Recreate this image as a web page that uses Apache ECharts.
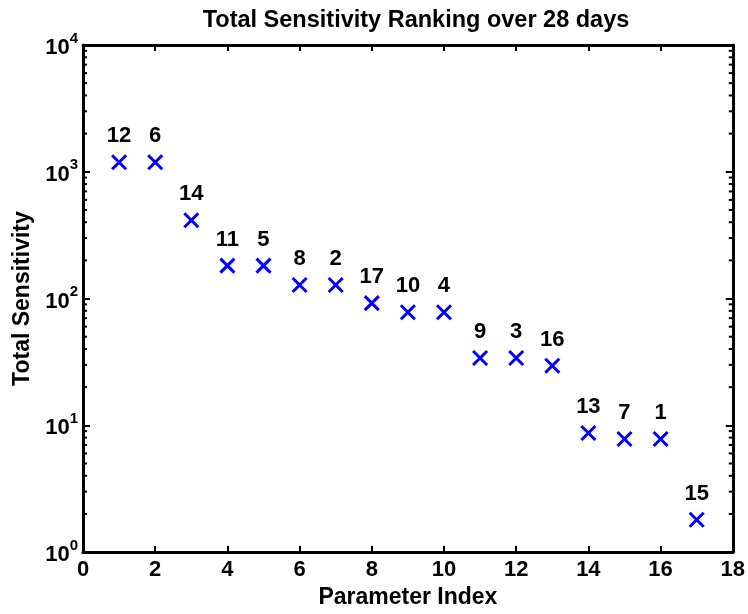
<!DOCTYPE html>
<html>
<head>
<meta charset="utf-8">
<script src="https://cdn.jsdelivr.net/npm/echarts@6/dist/echarts.min.js"></script>
<style>
  html, body { margin: 0; padding: 0; background: #fff; }
  #chart { width: 748px; height: 614px; }
</style>
</head>
<body>
<div id="chart"></div>
<script>
// Ranked parameters: position on the x axis, parameter id shown above each mark, total sensitivity
const rankPositions = [1, 2, 3, 4, 5, 6, 7, 8, 9, 10, 11, 12, 13, 14, 15, 16, 17];
const parameterIds = ['12', '6', '14', '11', '5', '8', '2', '17', '10', '4', '9', '3', '16', '13', '7', '1', '15'];
const sensitivity = [1190, 1190, 415, 182, 182, 128, 128, 92, 78, 78, 34, 34, 29.5, 8.7, 7.8, 7.8, 1.8];

const xTicks = [0, 2, 4, 6, 8, 10, 12, 14, 16, 18];
const yDecades = [1, 10, 100, 1000, 10000];

const FONT = 'Liberation Sans';

// minor log ticks: 2..9 within each decade
const minorTicks = [];
for (let d = 0; d < yDecades.length - 1; d++) {
  for (let m = 2; m <= 9; m++) minorTicks.push([0, m * yDecades[d]]);
}

const points = rankPositions.map((x, i) => ({ value: [x, sensitivity[i]], name: parameterIds[i] }));

const chart = echarts.init(document.getElementById('chart'), null, { renderer: 'canvas' });

const axisLineStyle = { color: '#000', width: 3 };
const tickStyle = { color: '#000', width: 2 };

chart.setOption({
  animation: false,
  backgroundColor: '#fff',
  title: {
    text: 'Total Sensitivity Ranking over 28 days',
    left: 411,
    top: 4,
    textAlign: 'center',
    textStyle: { fontFamily: FONT, fontWeight: 'bold', fontSize: 23.5, color: '#000' }
  },
  grid: { left: 83, right: 14, top: 45, bottom: 56, containLabel: false },
  xAxis: [{
    type: 'value',
    min: xTicks[0],
    max: xTicks[xTicks.length - 1],
    interval: 2,
    position: 'bottom',
    name: 'Parameter Index',
    nameLocation: 'middle',
    nameGap: 31,
    nameTextStyle: { fontFamily: FONT, fontWeight: 'bold', fontSize: 23, color: '#000' },
    axisLine: { show: true, onZero: false, lineStyle: axisLineStyle },
    axisTick: { show: true, inside: true, length: 6, lineStyle: tickStyle },
    axisLabel: { margin: 7, fontFamily: FONT, fontWeight: 'bold', fontSize: 22, color: '#000' },
    splitLine: { show: false }
  }, {
    type: 'value',
    min: xTicks[0],
    max: xTicks[xTicks.length - 1],
    interval: 2,
    position: 'top',
    axisLine: { show: true, onZero: false, lineStyle: axisLineStyle },
    axisTick: { show: true, inside: true, length: 6, lineStyle: tickStyle },
    axisLabel: { show: false },
    splitLine: { show: false }
  }],
  yAxis: [{
    type: 'log',
    logBase: 10,
    min: yDecades[0],
    max: yDecades[yDecades.length - 1],
    position: 'left',
    name: 'Total Sensitivity',
    nameLocation: 'middle',
    nameGap: 46,
    nameRotate: 90,
    nameTextStyle: { fontFamily: FONT, fontWeight: 'bold', fontSize: 23, color: '#000' },
    axisLine: { show: true, onZero: false, lineStyle: axisLineStyle },
    axisTick: { show: true, inside: true, length: 7, lineStyle: tickStyle },
    axisLabel: {
      margin: 5,
      formatter: v => '{b|10}{s|' + Math.round(Math.log10(v)) + '}',
      rich: {
        b: { fontFamily: FONT, fontWeight: 'bold', fontSize: 22, color: '#000', lineHeight: 22, verticalAlign: 'bottom' },
        s: { fontFamily: FONT, fontWeight: 'bold', fontSize: 15, color: '#000', lineHeight: 28, verticalAlign: 'top' }
      }
    },
    splitLine: { show: false }
  }, {
    type: 'log',
    logBase: 10,
    min: yDecades[0],
    max: yDecades[yDecades.length - 1],
    position: 'right',
    axisLine: { show: true, onZero: false, lineStyle: axisLineStyle },
    axisTick: { show: true, inside: true, length: 7, lineStyle: tickStyle },
    axisLabel: { show: false },
    splitLine: { show: false }
  }],
  series: [{
    // minor log ticks on both vertical edges
    type: 'custom',
    xAxisIndex: 0,
    yAxisIndex: 0,
    silent: true,
    clip: false,
    data: minorTicks,
    renderItem: (params, api) => {
      const v = api.value(1);
      const pl = api.coord([xTicks[0], v]);
      const pr = api.coord([xTicks[xTicks.length - 1], v]);
      const st = { stroke: '#000', lineWidth: 2 };
      return {
        type: 'group',
        children: [
          { type: 'line', shape: { x1: pl[0], y1: pl[1], x2: pl[0] + 4, y2: pl[1] }, style: st },
          { type: 'line', shape: { x1: pr[0], y1: pr[1], x2: pr[0] - 4, y2: pr[1] }, style: st }
        ]
      };
    }
  }, {
    type: 'scatter',
    xAxisIndex: 0,
    yAxisIndex: 0,
    data: points,
    symbol: 'path://M0,0L10,10M10,0L0,10',
    symbolSize: 14,
    itemStyle: { color: 'none', borderColor: '#0000ff', borderWidth: 3, opacity: 1 },
    label: {
      show: true,
      position: 'inside',
      offset: [0, -26],
      formatter: p => p.name,
      fontFamily: FONT,
      fontWeight: 'bold',
      fontSize: 22,
      color: '#000',
      textBorderWidth: 0
    }
  }]
});
</script>
</body>
</html>
